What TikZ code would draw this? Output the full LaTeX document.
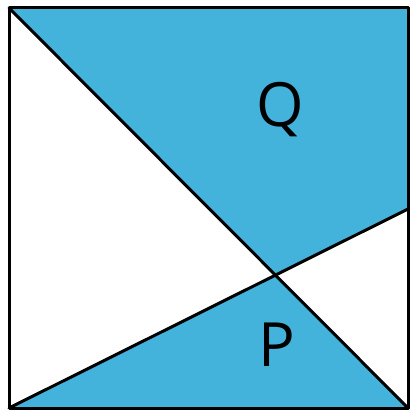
\documentclass[tikz,border=0pt]{standalone}
\usepackage{fontspec}
\setmainfont{Open Sans}
\definecolor{fillblue}{HTML}{44B3DB}
\begin{document}
\begin{tikzpicture}[x=1pt,y=-1pt,
  edge/.style={line width=3pt,line join=round,line cap=round},
  lbl/.style={font=\fontsize{61}{61}\selectfont,inner sep=0pt}]
\useasboundingbox (0,0) rectangle (416,419);
\coordinate (TL) at (9,8);
\coordinate (TR) at (408,8);
\coordinate (BR) at (408,408);
\coordinate (BL) at (9,408);
\coordinate (M) at (408,209);
\coordinate (X) at (275,275);
\fill[fillblue] (TL) -- (TR) -- (M) -- (X) -- cycle;
\fill[fillblue] (BL) -- (X) -- (BR) -- cycle;
\draw[edge] (TL) -- (TR) -- (BR) -- (BL) -- cycle;
\draw[edge] (TL) -- (BR);
\draw[edge] (BL) -- (M);
\node[lbl] (q) at (280,110) {Q};
\node[lbl] (p) at (277,345) {P};
\end{tikzpicture}
\end{document}
